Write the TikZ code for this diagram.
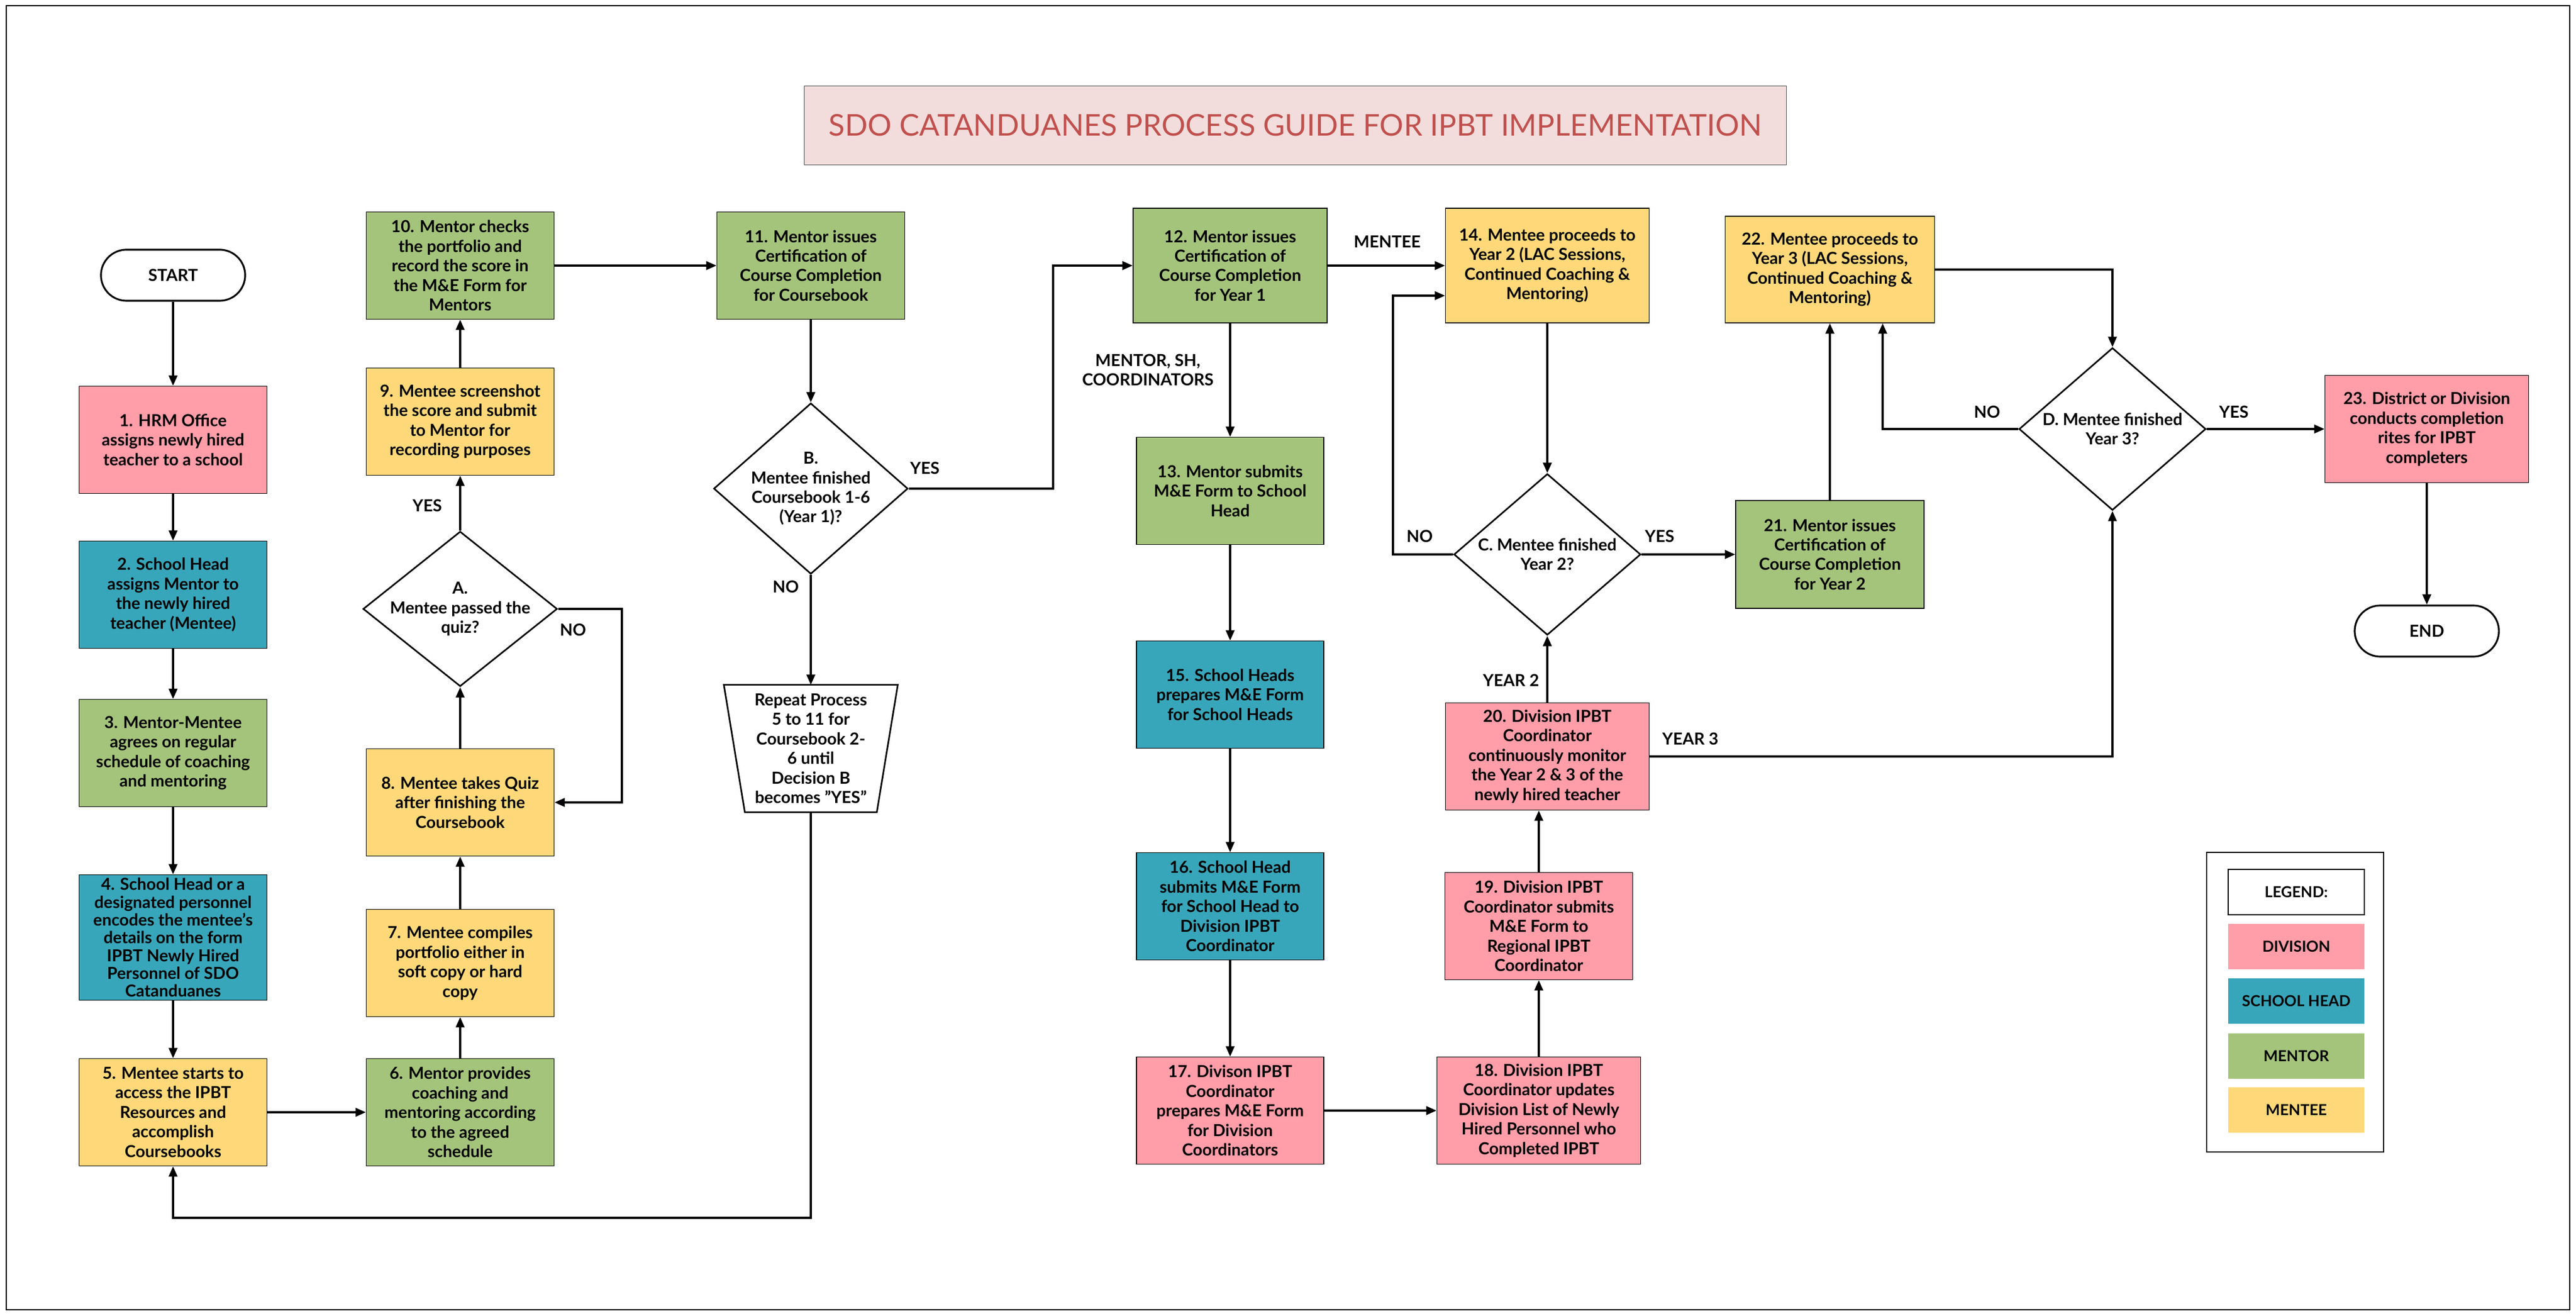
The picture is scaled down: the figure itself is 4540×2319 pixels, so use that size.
\documentclass[tikz,border=0pt]{standalone}
\usepackage{fontspec}
\setmainfont{Lato}
\usetikzlibrary{shapes,arrows.meta,calc}
\definecolor{divc}{RGB}{255,157,168}
\definecolor{shc}{RGB}{56,166,186}
\definecolor{mtrc}{RGB}{164,196,123}
\definecolor{mtec}{RGB}{255,217,121}
\definecolor{ttlfill}{RGB}{242,221,220}
\definecolor{ttltext}{RGB}{192,80,77}
\newcommand{\procfont}{\fontsize{8.3}{9.8}\selectfont\bfseries}
\newcommand{\tightfont}{\fontsize{8.3}{8.9}\selectfont\bfseries}
\tikzstyle{proc}=[rectangle,draw,line width=0.4pt,minimum width=3.31cm,minimum height=1.89cm,align=center,inner sep=1pt,font=\procfont]
\tikzstyle{dec}=[diamond,draw,line width=0.8pt,inner sep=0pt]
\tikzstyle{dtx}=[align=center,font=\procfont]
\tikzstyle{term}=[rectangle,rounded corners=0.45cm,draw,line width=0.9pt,minimum width=2.54cm,minimum height=0.9cm,font=\procfont]
\tikzstyle{lbl}=[align=center,font=\procfont]
\tikzstyle{arr}=[line width=0.9pt,-{Triangle[length=0.18cm,width=0.15cm]}]
\tikzstyle{wire}=[line width=0.9pt]
\tikzstyle{leg}=[rectangle,minimum width=2.4cm,minimum height=0.8cm,font=\fontsize{7.6}{9}\selectfont\bfseries]

\begin{document}
\begin{tikzpicture}[x=0.01cm,y=-0.01cm]
\useasboundingbox (0,0) rectangle (4540,2319);
\draw[line width=0.6pt] (11,10) rectangle (4529,2308);

\node[draw=black!70,fill=ttlfill,text=ttltext,minimum width=17.3cm,minimum height=1.39cm,font=\fontsize{15}{17}\selectfont] (title) at (2283,221) {SDO CATANDUANES PROCESS GUIDE FOR IPBT IMPLEMENTATION};

\node[term] (start) at (305,485) {START};
\node[proc,fill=divc] (n1) at (305,775) {1. HRM Office\\assigns newly hired\\teacher to a school};
\node[proc,fill=shc] (n2) at (305,1048) {2. School Head\\assigns Mentor to\\the newly hired\\teacher (Mentee)};
\node[proc,fill=mtrc] (n3) at (305,1327) {3. Mentor-Mentee\\agrees on regular\\schedule of coaching\\and mentoring};
\node[proc,fill=shc,minimum height=2.21cm,font=\tightfont] (n4) at (305,1652) {4. School Head or a\\designated personnel\\encodes the mentee's\\details on the form\\IPBT Newly Hired\\Personnel of SDO\\Catanduanes};
\node[proc,fill=mtec] (n5) at (305,1960) {5. Mentee starts to\\access the IPBT\\Resources and\\accomplish\\Coursebooks};

\node[proc,fill=mtrc] (n6) at (811,1960) {6. Mentor provides\\coaching and\\mentoring according\\to the agreed\\schedule};
\node[proc,fill=mtec] (n7) at (811,1697) {7. Mentee compiles\\portfolio either in\\soft copy or hard\\copy};
\node[proc,fill=mtec] (n8) at (811,1414) {8. Mentee takes Quiz\\after finishing the\\Coursebook};
\node[dec,minimum width=3.42cm,minimum height=2.73cm] (A) at (811,1073) {};
\node[dtx] (At) at (A) {A.\\Mentee passed the\\quiz?};
\node[proc,fill=mtec] (n9) at (811,743) {9. Mentee screenshot\\the score and submit\\to Mentor for\\recording purposes};
\node[proc,fill=mtrc] (n10) at (811,468) {10. Mentor checks\\the portfolio and\\record the score in\\the M\&E Form for\\Mentors};

\node[proc,fill=mtrc] (n11) at (1429,468) {11. Mentor issues\\Certification of\\Course Completion\\for Coursebook};
\node[dec,minimum width=3.42cm,minimum height=3.01cm] (B) at (1429,861) {};
\node[dtx] (Bt) at (B) {B.\\Mentee finished\\Coursebook 1-6\\(Year 1)?};
\node[rectangle,minimum width=3.05cm,minimum height=2.23cm,align=center,inner sep=1pt,font=\procfont] (rep) at (1429,1319) {Repeat Process\\5 to 11 for\\Coursebook 2-\\6 until\\Decision B\\becomes "YES"};
\draw[line width=0.8pt] (rep.north west) -- (rep.north east) -- ($(rep.south east)+(-37,0)$) -- ($(rep.south west)+(37,0)$) -- cycle;

\node[proc,fill=mtrc,minimum width=3.42cm,minimum height=2.02cm] (n12) at (2168,468) {12. Mentor issues\\Certification of\\Course Completion\\for Year 1};
\node[proc,fill=mtrc,minimum width=3.3cm] (n13) at (2168,865) {13. Mentor submits\\M\&E Form to School\\Head};
\node[proc,fill=shc,minimum width=3.3cm] (n15) at (2168,1224) {15. School Heads\\prepares M\&E Form\\for School Heads};
\node[proc,fill=shc,minimum width=3.3cm] (n16) at (2168,1597) {16. School Head\\submits M\&E Form\\for School Head to\\Division IPBT\\Coordinator};
\node[proc,fill=divc,minimum width=3.3cm] (n17) at (2168,1957) {17. Divison IPBT\\Coordinator\\prepares M\&E Form\\for Division\\Coordinators};

\node[proc,fill=mtec,minimum width=3.59cm,minimum height=2.02cm] (n14) at (2727,468) {14. Mentee proceeds to\\Year 2 (LAC Sessions,\\Continued Coaching \&\\Mentoring)};
\node[dec,minimum width=3.29cm,minimum height=2.84cm] (C) at (2727,977) {};
\node[dtx] (Ct) at (C) {C. Mentee finished\\Year 2?};
\node[proc,fill=divc,minimum width=3.59cm] (n20) at (2727,1333) {20. Division IPBT\\Coordinator\\continuously monitor\\the Year 2 \& 3 of the\\newly hired teacher};
\node[proc,fill=divc] (n19) at (2712,1632) {19. Division IPBT\\Coordinator submits\\M\&E Form to\\Regional IPBT\\Coordinator};
\node[proc,fill=divc,minimum width=3.59cm] (n18) at (2712,1957) {18. Division IPBT\\Coordinator updates\\Division List of Newly\\Hired Personnel who\\Completed IPBT};

\node[proc,fill=mtrc,minimum width=3.32cm,minimum height=1.9cm] (n21) at (3225,977) {21. Mentor issues\\Certification of\\Course Completion\\for Year 2};
\node[proc,fill=mtec,minimum width=3.69cm,minimum height=1.88cm] (n22) at (3225,475) {22. Mentee proceeds to\\Year 3 (LAC Sessions,\\Continued Coaching \&\\Mentoring)};
\node[dec,minimum width=3.29cm,minimum height=2.86cm] (D) at (3723,756) {};
\node[dtx] (Dt) at (D) {D. Mentee finished\\Year 3?};
\node[proc,fill=divc,minimum width=3.59cm] (n23) at (4277,756) {23. District or Division\\conducts completion\\rites for IPBT\\completers};
\node[term] (end) at (4277,1112) {END};

\coordinate (aNo) at (1096,1073);
\coordinate (bYes) at (1856,861);
\coordinate (repLp) at (1429,2146);
\coordinate (cNo) at (2455,977);
\coordinate (cTop) at (2455,521);
\coordinate (dNo) at (3318,756);

\draw[arr] (start) -- (n1);
\draw[arr] (n1) -- (n2);
\draw[arr] (n2) -- (n3);
\draw[arr] (n3) -- (n4);
\draw[arr] (n4) -- (n5);
\draw[arr] (n5) -- (n6);
\draw[arr] (n6) -- (n7);
\draw[arr] (n7) -- (n8);
\draw[arr] (n8) -- (A);
\draw[arr] (A) -- (n9);
\draw[arr] (n9) -- (n10);
\draw[arr] (A.east) -- (aNo) |- (n8.east);
\draw[arr] (n10) -- (n11);
\draw[arr] (n11) -- (B);
\draw[arr] (B.east) -- (bYes) |- (n12.west);
\draw[arr] (B) -- (rep);
\draw[arr] (rep.south) -- (repLp) -| (n5.south);
\draw[arr] (n12) -- (n13);
\draw[arr] (n13) -- (n15);
\draw[arr] (n15) -- (n16);
\draw[arr] (n16) -- (n17);
\draw[arr] (n17) -- (n18);
\draw[arr] (n18) -- (n19);
\draw[arr] (n19.north) -- (n19.north |- n20.south);
\draw[arr] (n12) -- (n14);
\draw[arr] (n14) -- (C);
\draw[arr] (n20) -- (C);
\draw[arr] (C.west) -- (cNo) -- (cTop) -- (n14.west |- cTop);
\draw[arr] (C) -- (n21);
\draw[arr] (n21) -- (n22);
\draw[arr] (n22.east) -| (D.north);
\draw[arr] (D.west) -- (dNo) -- (dNo |- n22.south);
\draw[arr] (n20.east) -| (D.south);
\draw[arr] (D) -- (n23);
\draw[arr] (n23) -- (end);

\node[lbl] (yesA) at (753,891) {YES};
\node[lbl] (noA) at (1010,1110) {NO};
\node[lbl] (yesB) at (1630,825) {YES};
\node[lbl] (noB) at (1385,1034) {NO};
\node[lbl] (mentee) at (2445,426) {MENTEE};
\node[lbl] (staff) at (2023,652) {MENTOR, SH,\\COORDINATORS};
\node[lbl] (noC) at (2502,945) {NO};
\node[lbl] (yesC) at (2925,945) {YES};
\node[lbl] (yr2) at (2663,1199) {YEAR 2};
\node[lbl] (yr3) at (2979,1302) {YEAR 3};
\node[lbl] (noD) at (3502,726) {NO};
\node[lbl] (yesD) at (3937,726) {YES};

\draw[line width=0.6pt] (3889,1502) rectangle (4201,2030);
\node[leg,draw,line width=0.6pt] (legend) at (4047,1572) {LEGEND:};
\node[leg,fill=divc] (lgdiv) at (4047,1668) {DIVISION};
\node[leg,fill=shc] (lgsh) at (4047,1764) {SCHOOL HEAD};
\node[leg,fill=mtrc] (lgmtr) at (4047,1861) {MENTOR};
\node[leg,fill=mtec] (lgmte) at (4047,1956) {MENTEE};
\end{tikzpicture}
\end{document}
